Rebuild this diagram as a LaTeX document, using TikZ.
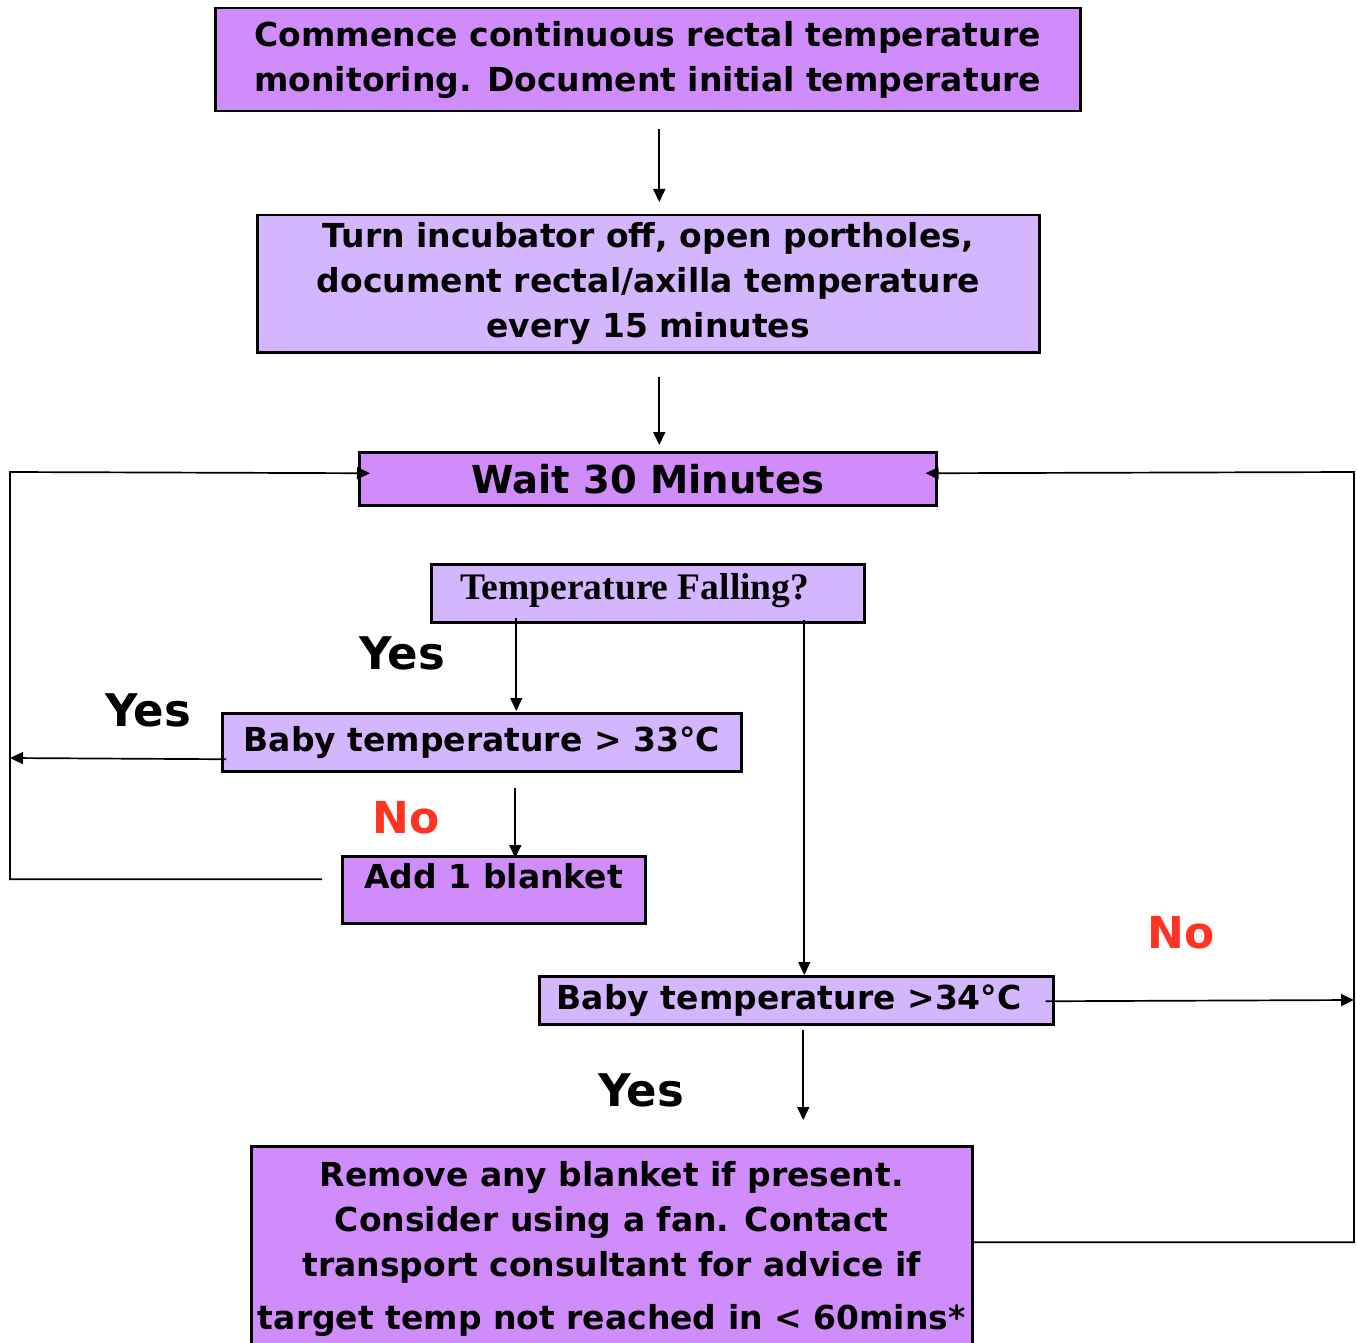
\documentclass[tikz,border=0pt]{standalone}
\usepackage{fontspec}
\usetikzlibrary{arrows.meta,calc}
\newfontfamily\vb{DejaVu Sans}
\newfontfamily\tb{Liberation Serif}
\definecolor{darkp}{RGB}{208,140,250}
\definecolor{lightp}{RGB}{212,182,255}
\definecolor{nored}{RGB}{255,51,34}
\tikzset{
  box/.style={draw=black, line width=2.5pt, rectangle, inner sep=0pt, align=center, anchor=north west, font=\vb\bfseries\fontsize{33}{45}\selectfont},
  dbox/.style={box, fill=darkp},
  lbox/.style={box, fill=lightp},
  arr/.style={line width=1.7pt, -{Triangle[length=13pt,width=12pt]}},
  yeslab/.style={font=\vb\bfseries\fontsize{45}{50}\selectfont},
  nolab/.style={font=\vb\bfseries\fontsize{44}{50}\selectfont, text=nored}
}
\begin{document}
\begin{tikzpicture}[x=1pt,y=-1pt]
\useasboundingbox (0,0) rectangle (1357,1343);
\node[dbox, minimum width=865, minimum height=103] (b1) at (214,7)
  {Commence continuous rectal temperature\\monitoring. Document initial temperature};
\node[lbox, minimum width=782, minimum height=137] (b2) at (256,214)
  {Turn incubator off, open portholes,\\document rectal/axilla temperature\\every 15 minutes};
\node[dbox, minimum width=577, minimum height=53, font=\vb\bfseries\fontsize{38.5}{46}\selectfont] (b3) at (358,451)
  {Wait 30 Minutes};
\node[lbox, minimum width=433, minimum height=58, font=\tb\bfseries\fontsize{37.5}{40}\selectfont, text height=26pt, text depth=14pt] (b4) at (430,563)
  {Temperature Falling?\hspace{26pt}};
\node[lbox, minimum width=519, minimum height=58] (b5) at (221,712)
  {Baby temperature > 33°C};
\node[dbox, minimum width=303, minimum height=67, text height=25pt, text depth=28pt] (b6) at (341,855)
  {Add 1 blanket};
\node[lbox, minimum width=514, minimum height=48] (b7) at (538,975)
  {Baby temperature >34°C\hspace{14pt}};
\node[dbox, minimum width=721, minimum height=205] (b8) at (250,1145)
  {Remove any blanket if present.\\Consider using a fan. Contact\\transport consultant for advice if\\[8pt]target temp not reached in < 60mins*};

\node[yeslab] (y1) at (402,653) {Yes};
\node[yeslab] (y2) at (148,710) {Yes};
\node[nolab] (n1) at (406,818) {No};
\node[nolab] (n2) at (1181,933) {No};
\node[yeslab] (y3) at (641,1090) {Yes};

\coordinate (lt) at (10,472);
\coordinate (lb) at (10,758);
\coordinate (rr) at (1354,472);
\coordinate (rm) at (1354,1000);

\draw[arr] ([shift={(11.5,17)}]b1.south) -- ([shift={(11,-12)}]b2.north);
\draw[arr] ([shift={(11,23)}]b2.south) -- ([shift={(11.5,-6)}]b3.north);
\draw[arr] ([shift={(-19,-10.5)}]b6.west) -| (lt) -- ([shift={(12,-5.5)}]b3.west);
\draw[arr] ([shift={(5,17)}]b5.west) -- (lb);
\draw[arr] ([shift={(-131.5,-6)}]b4.south) -- ([shift={(34.5,-1)}]b5.north);
\draw[arr] ([shift={(156.5,-4)}]b4.south) -- ([shift={(8,0)}]b7.north);
\draw[arr] ([shift={(33.5,15)}]b5.south) -- ([shift={(21.5,3)}]b6.north);
\draw[arr] ([shift={(-9,1)}]b7.east) -- (rm);
\draw[arr] ([shift={(7,4)}]b7.south) -- ([shift={(191.5,-25)}]b8.north);
\draw[arr] ([shift={(0,-6.5)}]b8.east) -| (rr) -- ([shift={(-12,-5.5)}]b3.east);
\end{tikzpicture}
\end{document}
